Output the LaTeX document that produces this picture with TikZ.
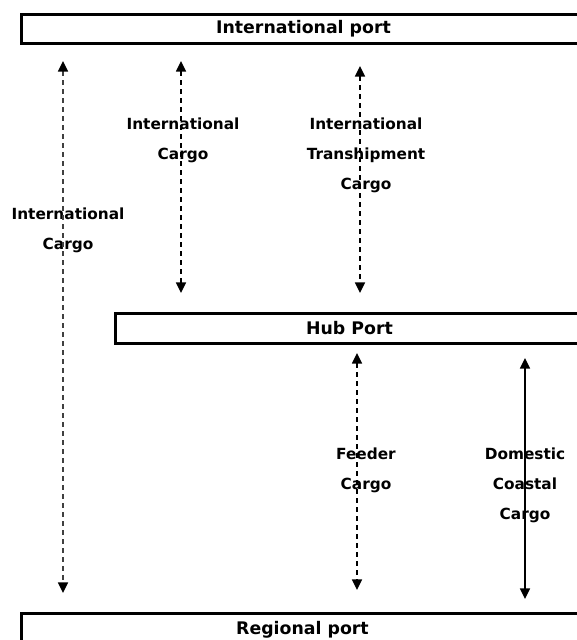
\documentclass[tikz,border=0pt]{standalone}
\usepackage{fontspec}
\setmainfont{DejaVu Sans}
\usetikzlibrary{arrows.meta,positioning}
\tikzset{port/.style={rectangle,draw,line width=2.25pt,anchor=north west,inner sep=0pt,font=\fontsize{13}{15}\selectfont\bfseries}}
\tikzset{cargo/.style={align=center,inner sep=0pt,font=\fontsize{11.5}{22.5}\selectfont\bfseries}}
\tikzset{route/.style={draw,line width=1.2pt,<->,>={Triangle[width=7.5pt,length=8pt,color=black]}}}
\tikzset{sea/.style={route,dash pattern=on 3.75pt off 3pt}}

\begin{document}
\begin{tikzpicture}[x=0.75pt,y=-0.75pt]
    \useasboundingbox (0,0) rectangle (576,640);

    \node[port,minimum width=423.75pt,minimum height=21.75pt] (intl) at (19.5,12.5) {International port};
    \node[port,minimum width=351.75pt,minimum height=22.5pt] (hub) at (113.5,311.5) {Hub Port};
    \node[port,minimum width=422.25pt,minimum height=25.5pt] (regional) at (19.5,611.5) {Regional port};

     \node[cargo] (intlcargo) at (68,230) {International\\Cargo};
     \node[cargo] (hubcargo) at (183,140) {International\\Cargo};
     \node[cargo] (transship) at (366,155) {International\\Transhipment\\Cargo};
     \node[cargo] (feeder) at (366,470) {Feeder\\Cargo};
     \node[cargo] (coastal) at (525,485) {Domestic\\Coastal\\Cargo};

        \path[sea,draw=black!75,shorten <=12.4pt,shorten >=13.9pt] (63,0 |- intl.south) -- (63,0 |- regional.north);
        \path[sea,shorten <=12.4pt,shorten >=13.9pt] (181,0 |- intl.south) -- (181,0 |- hub.north);
        \path[sea,shorten <=16.1pt,shorten >=13.9pt] (360,0 |- intl.south) -- (360,0 |- hub.north);
        \path[sea,shorten <=6.4pt,shorten >=16.1pt] (357,0 |- hub.south) -- (357,0 |- regional.north);
        \path[route,shorten <=10.1pt,shorten >=9.4pt] (525,0 |- hub.south) -- (525,0 |- regional.north);
  \end{tikzpicture}
\end{document}
